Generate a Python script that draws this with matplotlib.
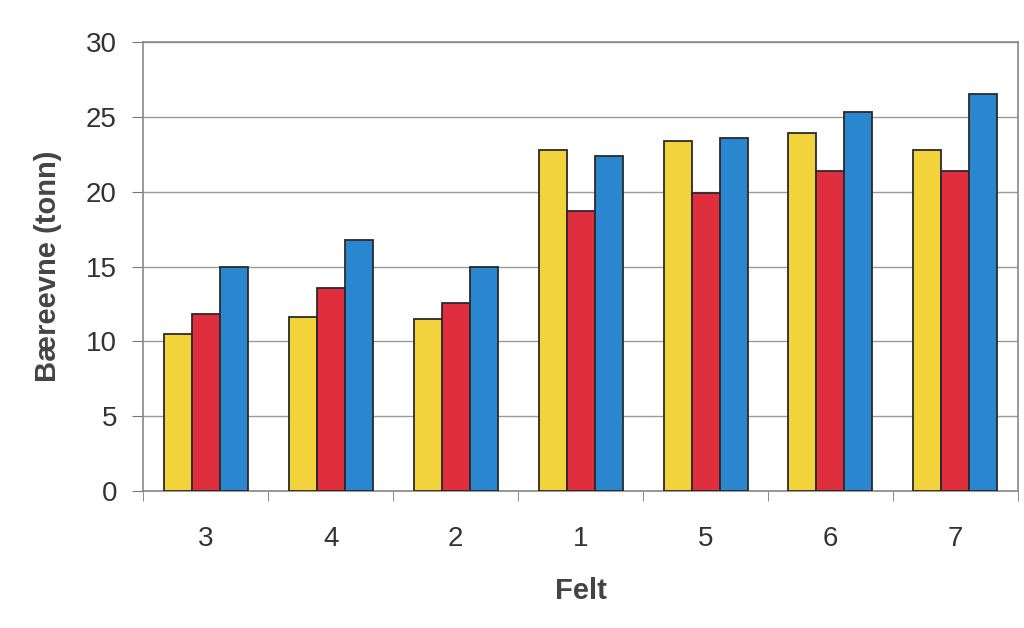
import numpy as np
import matplotlib
matplotlib.use('Agg')
import matplotlib.pyplot as plt

plt.rcParams['font.family'] = ['Liberation Sans', 'DejaVu Sans']

felt = ['3', '4', '2', '1', '5', '6', '7']
serie_gul = [10.5, 11.6, 11.5, 22.8, 23.4, 23.9, 22.8]
serie_rod = [11.8, 13.6, 12.6, 18.7, 19.9, 21.4, 21.4]
serie_bla = [14.95, 16.8, 14.95, 22.4, 23.6, 25.3, 26.5]

colors = ['#F3D33C', '#DF2E3E', '#2A86CE']

fig = plt.figure(figsize=(10.24, 6.28), dpi=100)
ax = fig.add_axes([0.14, 0.218, 0.854, 0.715])

x = np.arange(len(felt))
w = 0.224
for i, (vals, c) in enumerate(zip([serie_gul, serie_rod, serie_bla], colors)):
    ax.bar(x + (i - 1) * w, vals, width=w, color=c, edgecolor='#2a2a2a', linewidth=1.3, zorder=3)

ax.set_xlim(-0.5, len(felt) - 0.5)
ax.set_ylim(0, 30)
ax.set_yticks(range(0, 31, 5))
ax.set_xticks(x)
ax.set_xticklabels(felt)
ax.set_xticks(np.arange(-0.5, len(felt), 1), minor=True)
ax.tick_params(axis='x', which='major', length=0, pad=25, labelsize=20, labelcolor='#333333')
ax.tick_params(axis='x', which='minor', length=7, color='#777777', direction='out')
ax.tick_params(axis='y', length=8, color='#777777', labelsize=20, labelcolor='#333333', pad=11)
ax.grid(axis='y', color='#999999', linewidth=1, zorder=0)
for s in ax.spines.values():
    s.set_color('#888888')
    s.set_linewidth(1.2)

ax.set_ylabel('Bæreevne (tonn)', fontsize=21, fontweight='bold', color='#444444', labelpad=17)
ax.set_xlabel('Felt', fontsize=21, fontweight='bold', color='#444444', labelpad=18)

plt.savefig('out.png', dpi=100)
plt.close(fig)
